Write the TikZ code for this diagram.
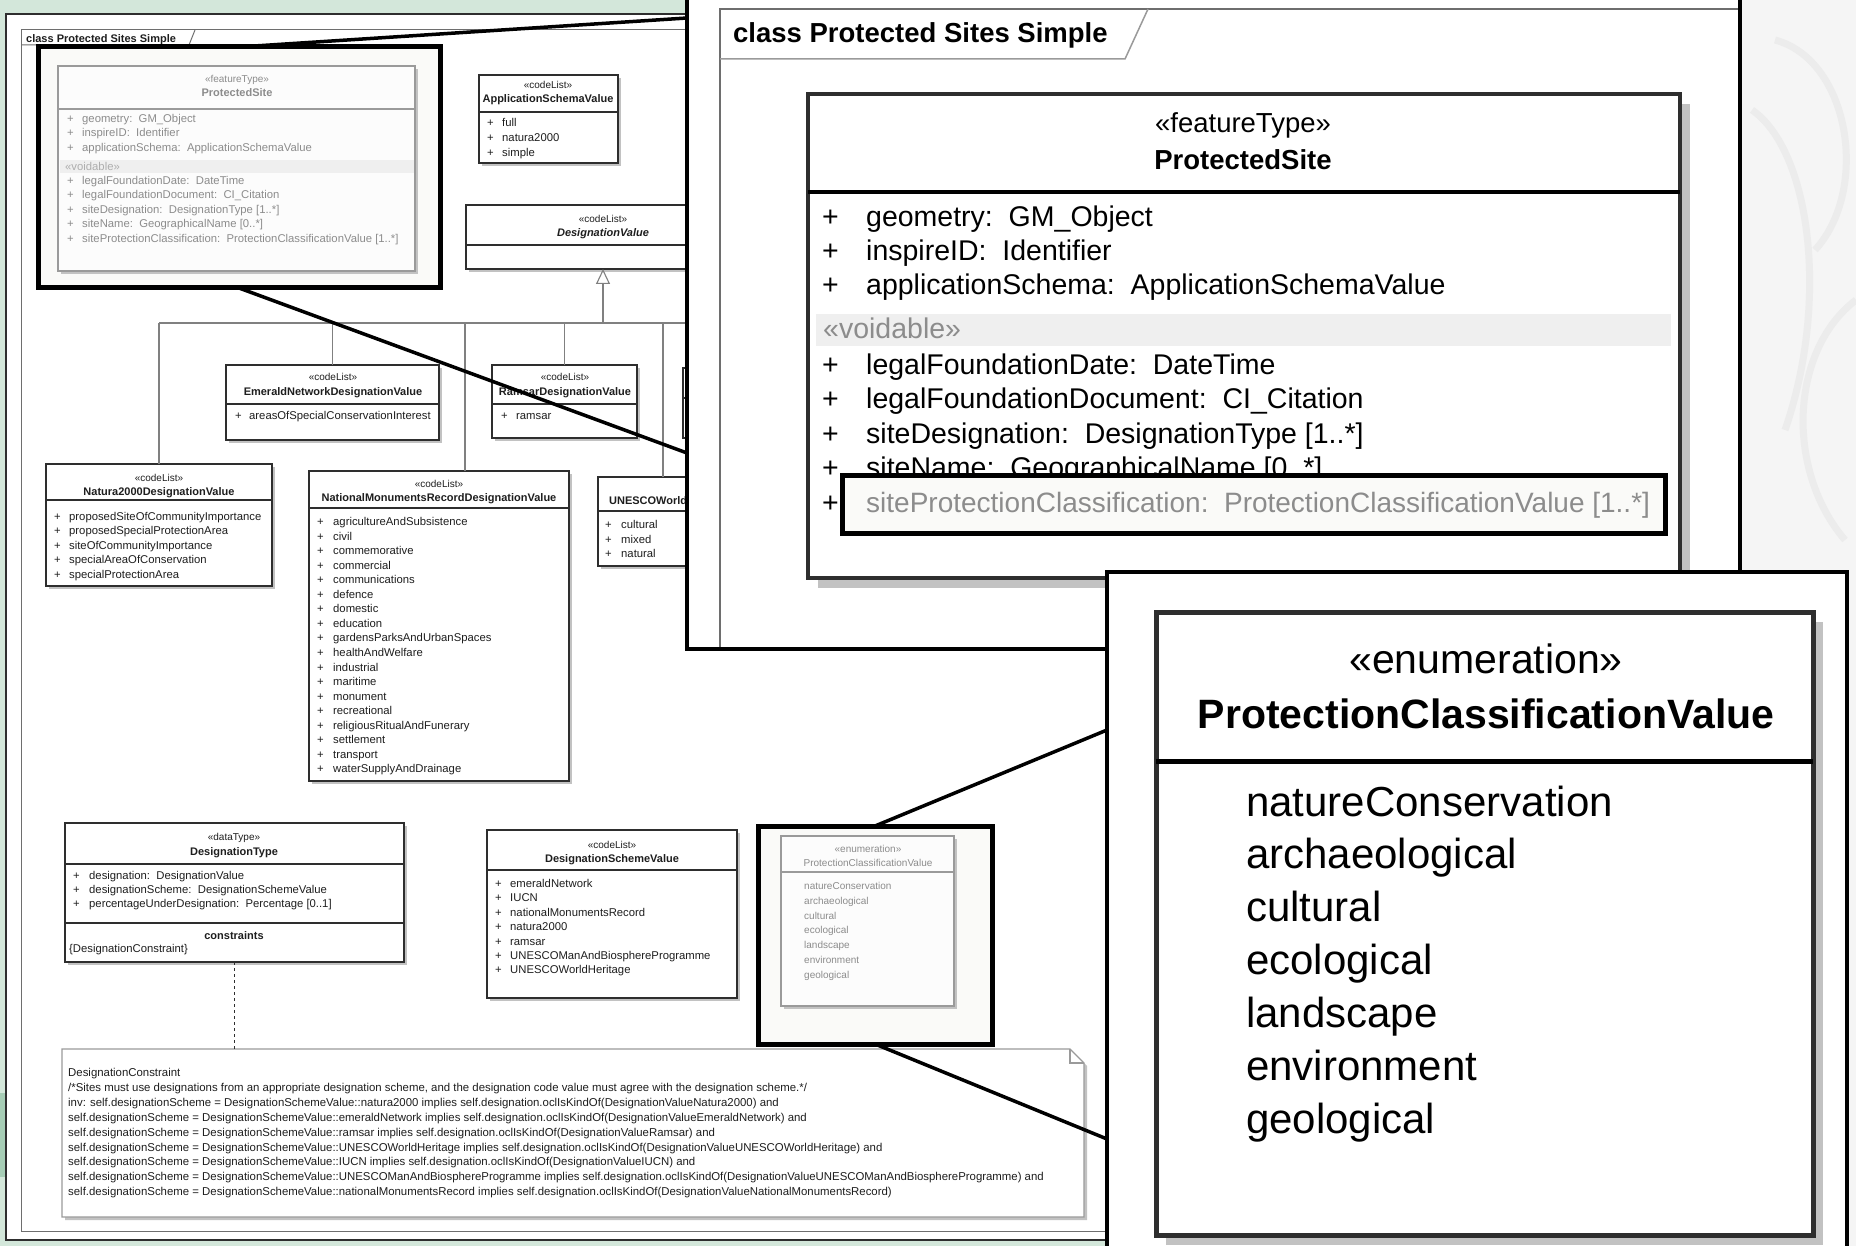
\documentclass[tikz,border=0pt]{standalone}
\usepackage{fontspec}
\setmainfont{Liberation Sans}
\usetikzlibrary{arrows.meta,shadows}

\definecolor{bggreen}{HTML}{D3E7DA}
\definecolor{bggreendark}{HTML}{A6CDB5}
\definecolor{swirlbg}{HTML}{F5F5F5}
\definecolor{swirl}{HTML}{ECECEC}
\definecolor{umlline}{HTML}{2E2E2E}
\definecolor{umltext}{HTML}{1E1E1E}
\definecolor{treeline}{HTML}{808080}
\definecolor{framegray}{HTML}{6E6E6E}
\definecolor{fadetext}{HTML}{8C8C8C}
\definecolor{fadeline}{HTML}{9A9A9A}
\definecolor{voidband}{HTML}{EFEFEF}
\definecolor{hlfill}{HTML}{FAFAF8}
\definecolor{shadowgray}{HTML}{C2C2C2}

\newcommand{\diagsmall}{\fontsize{11.3}{13}\selectfont}
\newcommand{\diagname}{\fontsize{11}{13}\selectfont}
\newcommand{\diagnote}{\fontsize{11.4}{13}\selectfont}
\newcommand{\diagstereo}{\fontsize{10}{12}\selectfont}
\newcommand{\diagmid}{\fontsize{27.5}{33}\selectfont}
\newcommand{\diagmiditem}{\fontsize{28.5}{34}\selectfont}
\newcommand{\diagbig}{\fontsize{41}{49}\selectfont}
\newcommand{\diagbigitem}{\fontsize{42}{50}\selectfont}
\newcommand{\umlplus}[1][15pt]{\makebox[#1][l]{+}}

\begin{document}
\begin{tikzpicture}[x=1pt, y=-1pt,
    panel/.style={draw=black, line width=3.5pt, fill=white,
                  anchor=north west, inner sep=0pt, outer sep=0pt},
    hilite/.style={draw=black, line width=5pt, fill=hlfill,
                   anchor=north west, inner sep=0pt, outer sep=0pt},
    boxbase/.style={draw=umlline, line width=1.1pt, fill=white,
                    anchor=north west, inner sep=0pt, outer sep=0pt},
    umlbox/.style={boxbase,
                   drop shadow={shadow xshift=3pt, shadow yshift=-3pt,
                                fill=shadowgray, opacity=1}},
    fadebox/.style={umlbox, draw=fadeline, fill=black!1},
    bigbox/.style={boxbase, line width=4pt,
                   drop shadow={shadow xshift=10pt, shadow yshift=-10pt,
                                fill=shadowgray, opacity=1}},
    div/.style={umlline, line width=1.1pt},
    bigdiv/.style={black, line width=4pt},
    tree/.style={treeline, line width=1.1pt},
    gen/.style={treeline, line width=1.1pt,
                -{Triangle[open, length=15pt, width=14pt, fill=white]}},
    zoomline/.style={black, line width=3.5pt, line cap=round},
    txt/.style={inner sep=0pt, text height=9.9pt, text depth=0.9pt},
    stereo/.style={txt, font=\diagstereo, text=umltext},
    cname/.style={txt, font=\diagname\bfseries, text=umltext},
    item/.style={txt, font=\diagsmall, anchor=west, text=umltext},
    noteline/.style={item, font=\diagnote},
    midtext/.style={inner sep=0pt, text height=21pt, text depth=1pt,
                    font=\diagmid, text=black},
    miditem/.style={midtext, font=\diagmiditem, anchor=west},
    bigtext/.style={inner sep=0pt, text height=31pt, text depth=1pt,
                    font=\diagbig, text=black},
    bigitem/.style={bigtext, font=\diagbigitem, anchor=west},
]
\useasboundingbox (0,0) rectangle (1856,1246);

% --- Background ---
\fill[bggreen] (0,0) rectangle (1856,1246);
\fill[bggreendark] (0,1093) rectangle (6,1177);
\fill[swirlbg] (1740,0) rectangle (1856,1246);
\draw[swirl, line width=7pt] (1775,40) .. controls (1850,60) and (1870,190) .. (1815,250);
\draw[swirl, line width=7pt] (1752,110) .. controls (1810,150) and (1830,300) .. (1785,430);
\draw[swirl, line width=7pt] (1856,300) .. controls (1790,350) and (1785,470) .. (1845,540);

% --- Window and diagram frame ---
\node[boxbase, line width=1.2pt, minimum width=1296pt, minimum height=1226pt] (window) at (6,14) {};
\node[boxbase, draw=framegray, fill=none, line width=1pt,
      minimum width=1250pt, minimum height=1201pt] (frame) at (21,30) {};
\draw[framegray, line width=1pt] (21,45) -- (189,45) -- (195,30);
\node[item, font=\diagname\bfseries] (frame-tab) at (26,38) {class Protected Sites Simple};

% --- ProtectedSite (highlighted) ---
\node[hilite, minimum width=402pt, minimum height=241pt] (hlps) at (38,47) {};
\node[fadebox, minimum width=357pt, minimum height=205pt] (ps) at (58,66) {};
\draw[div, fadeline] (ps.west |- 0,109) -- (ps.east |- 0,109);
\node[stereo, text=fadetext] (ps-st) at (237,78) {«featureType»};
\node[cname, text=fadetext] (ps-nm) at (237,92) {ProtectedSite};
\foreach \lbl [count=\i] in {geometry:~~GM\_Object, inspireID:~~Identifier,
                             applicationSchema:~~ApplicationSchemaValue}
  \node[item, text=fadetext] (ps-a\i) at (67,{118+(\i-1)*14.5}) {\umlplus\lbl};
\fill[voidband] (60,160) rectangle (414,173);
\node[item, text=fadetext!70] (ps-void) at (65,166) {«voidable»};
\node[item, text=fadetext] (ps-v1) at (67,180) {\umlplus legalFoundationDate:~~DateTime};
\node[item, text=fadetext] (ps-v2) at (67,194.5) {\umlplus legalFoundationDocument:~~CI\_Citation};
\node[item, text=fadetext] (ps-v3) at (67,209) {\umlplus siteDesignation:~~DesignationType [1..*]};
\node[item, text=fadetext] (ps-v4) at (67,223.5) {\umlplus siteName:~~GeographicalName [0..*]};
\node[item, text=fadetext] (ps-v5) at (67,238) {\umlplus siteProtectionClassification:~~ProtectionClassificationValue [1..*]};

% --- ApplicationSchemaValue ---
\node[umlbox, minimum width=139pt, minimum height=88pt] (appschema) at (479,75) {};
\draw[div] (appschema.west |- 0,112) -- (appschema.east |- 0,112);
\node[stereo] (appschema-st) at (548,84) {«codeList»};
\node[cname] (appschema-nm) at (548,98) {ApplicationSchemaValue};
\foreach \lbl [count=\i] in {full, natura2000, simple}
  \node[item] (appschema-\i) at (487,{122+(\i-1)*15.2}) {\umlplus\lbl};

% --- DesignationValue and its code lists ---
\node[umlbox, minimum width=274pt, minimum height=64pt] (dv) at (466,205) {};
\draw[div] (dv.west |- 0,245) -- (dv.east |- 0,245);
\node[stereo] (dv-st) at (603,218) {«codeList»};
\node[cname, font=\diagname\bfseries\itshape] (dv-nm) at (603,232) {DesignationValue};

\node[umlbox, minimum width=213pt, minimum height=75pt] (emerald) at (226,365) {};
\draw[div] (emerald.west |- 0,404) -- (emerald.east |- 0,404);
\node[stereo] (emerald-st) at (333,376) {«codeList»};
\node[cname] (emerald-nm) at (333,391) {EmeraldNetworkDesignationValue};
\node[item] (emerald-1) at (235,415) {\umlplus[14pt]areasOfSpecialConservationInterest};

\node[umlbox, minimum width=145pt, minimum height=73pt] (ramsar) at (492,365) {};
\draw[div] (ramsar.west |- 0,404) -- (ramsar.east |- 0,404);
\node[stereo] (ramsar-st) at (565,376) {«codeList»};
\node[cname] (ramsar-nm) at (565,391) {RamsarDesignationValue};
\node[item] (ramsar-1) at (501,415) {\umlplus ramsar};

\node[umlbox, minimum width=80pt, minimum height=70pt] (hiddenlist) at (683,368) {};
\draw[div] (hiddenlist.west |- 0,398) -- (hiddenlist.east |- 0,398);

\node[umlbox, minimum width=226pt, minimum height=122pt] (natura) at (46,464) {};
\draw[div] (natura.west |- 0,500) -- (natura.east |- 0,500);
\node[stereo] (natura-st) at (159,477) {«codeList»};
\node[cname] (natura-nm) at (159,491) {Natura2000DesignationValue};
\foreach \lbl [count=\i] in {proposedSiteOfCommunityImportance, proposedSpecialProtectionArea,
    siteOfCommunityImportance, specialAreaOfConservation, specialProtectionArea}
  \node[item] (natura-\i) at (54,{516+(\i-1)*14.4}) {\umlplus\lbl};

\node[umlbox, minimum width=260pt, minimum height=310pt] (natmon) at (309,471) {};
\draw[div] (natmon.west |- 0,508) -- (natmon.east |- 0,508);
\node[stereo] (natmon-st) at (439,483) {«codeList»};
\node[cname] (natmon-nm) at (439,497) {NationalMonumentsRecordDesignationValue};
\foreach \lbl [count=\i] in {agricultureAndSubsistence, civil, commemorative, commercial,
    communications, defence, domestic, education, gardensParksAndUrbanSpaces,
    healthAndWelfare, industrial, maritime, monument, recreational,
    religiousRitualAndFunerary, settlement, transport, waterSupplyAndDrainage}
  \node[item] (natmon-\i) at (317,{521+(\i-1)*14.55}) {\umlplus[16pt]\lbl};

\node[umlbox, minimum width=236pt, minimum height=89pt] (unesco) at (598,477) {};
\draw[div] (unesco.west |- 0,511) -- (unesco.east |- 0,511);
\node[stereo] (unesco-st) at (716,487) {«codeList»};
\node[cname] (unesco-nm) at (716,500) {UNESCOWorldHeritageDesignationValue};
\foreach \lbl [count=\i] in {cultural, mixed, natural}
  \node[item] (unesco-\i) at (605,{524+(\i-1)*14.5}) {\umlplus[16pt]\lbl};

% generalization tree
\coordinate (bus) at (603,323);
\draw[tree] (natura.north |- bus) -- (800,323);
\draw[tree] (natura.north) -- (natura.north |- bus);
\draw[tree] (emerald.north) -- (emerald.north |- bus);
\draw[tree] (natmon.north -| 465,0) -- (465,0 |- bus);
\draw[tree] (ramsar.north) -- (ramsar.north |- bus);
\draw[tree] (unesco.north -| 663,0) -- (663,0 |- bus);
\draw[gen] (bus) -- (dv.south);

% --- DesignationType ---
\node[umlbox, minimum width=339pt, minimum height=139pt] (dtype) at (65,823) {};
\draw[div] (dtype.west |- 0,864) -- (dtype.east |- 0,864);
\draw[div] (dtype.west |- 0,923) -- (dtype.east |- 0,923);
\node[stereo] (dtype-st) at (234,836) {«dataType»};
\node[cname] (dtype-nm) at (234,851) {DesignationType};
\node[item] (dtype-1) at (73,875) {\umlplus[16pt]designation:~~DesignationValue};
\node[item] (dtype-2) at (73,889) {\umlplus[16pt]designationScheme:~~DesignationSchemeValue};
\node[item] (dtype-3) at (73,903) {\umlplus[16pt]percentageUnderDesignation:~~Percentage [0..1]};
\node[cname] (dtype-cn) at (234,935) {constraints};
\node[item] (dtype-c1) at (69,948) {\{DesignationConstraint\}};

% --- DesignationSchemeValue ---
\node[umlbox, minimum width=250pt, minimum height=168pt] (scheme) at (487,830) {};
\draw[div] (scheme.west |- 0,870) -- (scheme.east |- 0,870);
\node[stereo] (scheme-st) at (612,844) {«codeList»};
\node[cname] (scheme-nm) at (612,858) {DesignationSchemeValue};
\foreach \lbl [count=\i] in {emeraldNetwork, IUCN, nationalMonumentsRecord, natura2000, ramsar,
    UNESCOManAndBiosphereProgramme, UNESCOWorldHeritage}
  \node[item] (scheme-\i) at (495,{883+(\i-1)*14.4}) {\umlplus\lbl};

% --- ProtectionClassificationValue (highlighted) ---
\node[hilite, minimum width=234pt, minimum height=218pt] (hlpcv) at (758,826) {};
\node[fadebox, minimum width=173pt, minimum height=170pt] (pcv) at (781,836) {};
\draw[div, fadeline] (pcv.west |- 0,872) -- (pcv.east |- 0,872);
\node[stereo, text=fadetext] (pcv-st) at (868,848) {«enumeration»};
\node[stereo, text=fadetext] (pcv-nm) at (868,862) {ProtectionClassificationValue};
\foreach \lbl [count=\i] in {natureConservation, archaeological, cultural, ecological,
    landscape, environment, geological}
  \node[stereo, anchor=west, text=fadetext] (pcv-\i) at (804,{885+(\i-1)*14.8}) {\lbl};

% --- Constraint note ---
\node[anchor=north west, inner sep=0pt, outer sep=0pt,
      minimum width=1022pt, minimum height=168pt] (note) at (62,1049) {};
\fill[shadowgray] (65,1052) -- (1073,1052) -- (1087,1066) -- (1087,1220) -- (65,1220) -- cycle;
\draw[div, draw=fadeline, fill=white] (note.north west) -- (1070,1049) -- (1084,1063)
    -- (note.south east) -- (note.south west) -- cycle;
\draw[div, draw=fadeline] (1070,1049) -- (1070,1063) -- (1084,1063);
\draw[div, dashed] (dtype.south) -- (dtype.south |- note.north);
\foreach \lbl [count=\i] in {DesignationConstraint,
    {/*Sites must use designations from an appropriate designation scheme, and the designation code value must agree with the designation scheme.*/},
    inv: self.designationScheme = DesignationSchemeValue::natura2000 implies self.designation.oclIsKindOf(DesignationValueNatura2000) and,
    self.designationScheme = DesignationSchemeValue::emeraldNetwork implies self.designation.oclIsKindOf(DesignationValueEmeraldNetwork) and,
    self.designationScheme = DesignationSchemeValue::ramsar implies self.designation.oclIsKindOf(DesignationValueRamsar) and,
    self.designationScheme = DesignationSchemeValue::UNESCOWorldHeritage implies self.designation.oclIsKindOf(DesignationValueUNESCOWorldHeritage) and,
    self.designationScheme = DesignationSchemeValue::IUCN implies self.designation.oclIsKindOf(DesignationValueIUCN) and,
    self.designationScheme = DesignationSchemeValue::UNESCOManAndBiosphereProgramme implies self.designation.oclIsKindOf(DesignationValueUNESCOManAndBiosphereProgramme) and,
    self.designationScheme = DesignationSchemeValue::nationalMonumentsRecord implies self.designation.oclIsKindOf(DesignationValueNationalMonumentsRecord)}
  \node[noteline] (note-\i) at (68,{1072+(\i-1)*14.9}) {\lbl};

% --- Zoom panel: ProtectedSite ---
\node[panel, minimum width=1053pt, minimum height=659pt] (panelA) at (687,-10) {};
\draw[framegray, line width=2pt] (720,647) -- (720,9) -- (1738,9);
\draw[framegray!70, line width=1.5pt] (720,59) -- (1125,59) -- (1148,9);
\node[midtext, anchor=west, font=\diagmid\bfseries] (panelA-tab) at (733,33) {class Protected Sites Simple};
\node[bigbox, minimum width=872pt, minimum height=484pt] (bigps) at (808,94) {};
\draw[bigdiv] (bigps.west |- 0,192) -- (bigps.east |- 0,192);
\node[midtext] (bigps-st) at (1243,123) {«featureType»};
\node[midtext, font=\diagmid\bfseries] (bigps-nm) at (1243,160) {ProtectedSite};
\foreach \lbl [count=\i] in {geometry:~~GM\_Object, inspireID:~~Identifier,
                             applicationSchema:~~ApplicationSchemaValue}
  \node[miditem] (bigps-a\i) at (822,{217+(\i-1)*34}) {\umlplus[44pt]\lbl};
\fill[voidband] (816,314) rectangle (1671,346);
\node[miditem, text=fadetext] (bigps-void) at (823,329) {«voidable»};
\node[miditem] (bigps-v1) at (822,365) {\umlplus[44pt]legalFoundationDate:~~DateTime};
\node[miditem] (bigps-v2) at (822,399) {\umlplus[44pt]legalFoundationDocument:~~CI\_Citation};
\node[miditem] (bigps-v3) at (822,433) {\umlplus[44pt]siteDesignation:~~DesignationType [1..*]};
\node[miditem] (bigps-v4) at (822,468) {\umlplus[44pt]siteName:~~GeographicalName [0..*]};
\node[hilite, minimum width=823pt, minimum height=58pt] (hlattr) at (842,475) {};
\node[miditem] (bigps-v5p) at (822,502) {+};
\node[miditem, font=\fontsize{28}{34}\selectfont, text=fadetext] (bigps-v5) at (866,502)
    {siteProtectionClassification:~~ProtectionClassificationValue [1..*]};

% --- Zoom panel: ProtectionClassificationValue ---
\node[panel, minimum width=740pt, minimum height=700pt] (panelB) at (1107,572) {};
\node[bigbox, line width=5pt, minimum width=657pt, minimum height=623pt] (bigpcv) at (1156,612) {};
\draw[bigdiv, line width=5pt] (bigpcv.west |- 0,761) -- (bigpcv.east |- 0,761);
\node[bigtext] (bigpcv-st) at (1486,658) {«enumeration»};
\node[bigtext, font=\diagbig\bfseries] (bigpcv-nm) at (1486,713) {ProtectionClassificationValue};
\foreach \lbl [count=\i] in {natureConservation, archaeological, cultural, ecological,
    landscape, environment, geological}
  \node[bigitem] (bigpcv-\i) at (1246,{801+(\i-1)*52.9}) {\lbl};

% --- Zoom connectors ---
\draw[zoomline] (hlps.north) -- (panelA.west |- 0,18);
\draw[zoomline] (hlps.south) -- (panelA.west |- 0,453);
\draw[zoomline] (hlpcv.north) -- (panelB.west |- 0,730);
\draw[zoomline] (hlpcv.south) -- (panelB.west |- 0,1139);

\end{tikzpicture}
\end{document}
